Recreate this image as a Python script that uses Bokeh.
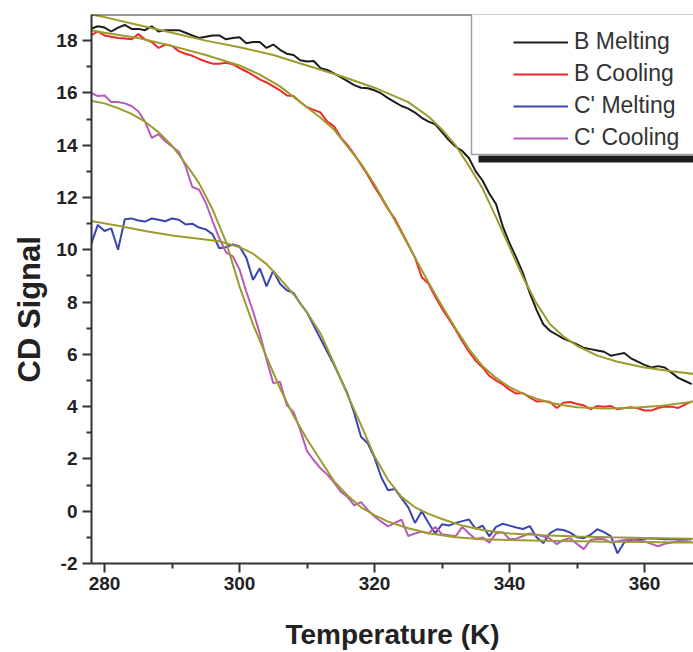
from bokeh.plotting import figure
from bokeh.models import Range1d, FixedTicker, Legend, LegendItem, BoxAnnotation, Span, Title
from bokeh.embed import file_html
from bokeh.resources import INLINE

# ---- data ----
temps = list(range(278, 368))

b_melting = [18.45, 18.55, 18.5, 18.35, 18.5, 18.6, 18.45, 18.45, 18.4, 18.55,
             18.35, 18.4, 18.4, 18.4, 18.3, 18.2, 18.1, 18.15, 18.2, 18.2,
             18.05, 18.1, 18.13, 17.9, 17.95, 17.95, 17.72, 17.85, 17.65, 17.5,
             17.45, 17.25, 17.2, 17.22, 16.95, 16.88, 16.75, 16.6, 16.45, 16.3,
             16.2, 16.18, 16.1, 15.98, 15.8, 15.65, 15.5, 15.4, 15.25, 15.05,
             14.9, 14.8, 14.5, 14.2, 13.95, 13.78, 13.5, 13.0, 12.65, 12.15,
             11.75, 10.9, 10.25, 9.7, 9.1, 8.35, 7.7, 7.15, 6.9, 6.75,
             6.6, 6.5, 6.38, 6.25, 6.2, 6.15, 6.1, 5.95, 6.0, 6.05,
             5.85, 5.72, 5.6, 5.5, 5.55, 5.5, 5.3, 5.1, 4.98, 4.86]

b_cooling = [18.2, 18.35, 18.2, 18.15, 18.1, 18.08, 18.05, 18.25, 18.05, 17.95,
             17.72, 17.85, 17.8, 17.6, 17.5, 17.42, 17.3, 17.2, 17.12, 17.12,
             17.15, 17.1, 16.95, 16.82, 16.68, 16.52, 16.4, 16.25, 16.1, 15.9,
             15.88, 15.65, 15.45, 15.35, 15.25, 14.9, 14.72, 14.3, 14.0, 13.65,
             13.25, 12.85, 12.4, 12.0, 11.55, 11.2, 10.7, 10.2, 9.7, 8.95,
             8.7, 8.2, 7.75, 7.35, 6.95, 6.5, 6.1, 5.75, 5.5, 5.18,
             5.0, 4.85, 4.65, 4.5, 4.52, 4.35, 4.2, 4.22, 4.18, 3.95,
             4.15, 4.18, 4.1, 4.05, 3.9, 4.02, 4.0, 4.02, 3.9, 3.95,
             3.98, 3.94, 3.85, 3.85, 3.95, 4.0, 4.0, 3.95, 4.08, 4.2]

c_melting = [10.2, 10.95, 10.72, 10.82, 10.0, 11.17, 11.2, 11.12, 11.08, 11.2,
             11.15, 11.09, 11.2, 11.15, 10.97, 11.0, 10.85, 10.78, 10.6, 10.06,
             10.1, 10.2, 10.13, 9.7, 8.85, 9.29, 8.6, 9.2, 8.7, 8.45,
             8.35, 7.95, 7.6, 7.1, 6.6, 6.1, 5.6, 5.05, 4.5, 3.75,
             2.85, 2.6, 2.05, 1.3, 0.8, 0.85, 0.5, 0.15, -0.45, 0.0,
             -0.45, -0.85, -0.5, -0.55, -0.45, -0.38, -0.32, -0.68, -0.55, -0.96,
             -0.6, -0.48, -0.55, -0.62, -0.68, -0.57, -1.0, -1.22, -0.84, -0.69,
             -0.72, -0.82, -1.0, -1.03, -0.9, -0.69, -0.8, -0.95, -1.61, -1.2,
             -1.1, -1.07, -1.05, -1.03, -1.05, -1.07, -1.06, -1.08, -1.07, -1.07]

c_cooling = [16.0, 15.88, 15.9, 15.65, 15.65, 15.6, 15.5, 15.3, 14.9, 14.28,
             14.42, 14.15, 13.95, 13.75, 13.2, 12.4, 12.3, 11.8, 11.1, 10.45,
             9.9, 9.75, 9.25, 8.4, 7.65, 6.8, 5.8, 4.9, 4.95, 4.05,
             3.8, 3.1, 2.3, 1.95, 1.64, 1.4, 1.1, 0.75, 0.55, 0.22,
             0.35, 0.05, -0.2, -0.4, -0.58, -0.45, -0.32, -0.95, -0.85, -0.78,
             -0.85, -0.6, -0.88, -0.92, -0.96, -0.6, -0.85, -1.07, -1.0, -1.2,
             -0.85, -0.8, -1.07, -1.05, -0.95, -0.85, -0.9, -0.96, -1.05, -1.26,
             -1.1, -1.03, -1.25, -1.45, -1.1, -1.05, -1.07, -1.2, -1.15, -1.1,
             -1.07, -1.12, -1.15, -1.25, -1.34, -1.25, -1.2, -1.15, -1.15, -1.18]

# fitted curves
fit_bm_t = [278, 280, 285, 290, 295, 300, 305, 310, 315, 320, 325, 328, 330, 332, 334,
            336, 338, 340, 342, 344, 346, 348, 350, 353, 356, 360, 364, 367.3]
fit_bm_v = [19.0, 18.9, 18.6, 18.3, 18.0, 17.75, 17.45, 17.05, 16.65, 16.2, 15.65, 15.1,
            14.6, 14.0, 13.2, 12.35, 11.25, 10.1, 8.95, 7.95, 7.15, 6.68, 6.33, 5.95,
            5.72, 5.5, 5.35, 5.25]

fit_bc_t = [278, 280, 285, 290, 295, 300, 303, 306, 308, 310, 312, 314, 316, 318, 320,
            322, 324, 326, 328, 330, 332, 334, 336, 338, 340, 342, 344, 346, 348, 350,
            354, 358, 362, 366, 367.3]
fit_bc_v = [18.4, 18.3, 18.1, 17.8, 17.45, 17.05, 16.7, 16.25, 15.85, 15.45, 15.05, 14.6,
            13.95, 13.3, 12.5, 11.6, 10.65, 9.7, 8.75, 7.85, 7.0, 6.2, 5.55, 5.1, 4.75,
            4.5, 4.3, 4.15, 4.05, 3.98, 3.93, 3.95, 4.02, 4.15, 4.2]

fit_cm_t = [278, 282, 286, 290, 294, 297, 300, 302, 304, 306, 308, 310, 312, 314, 316,
            318, 320, 322, 324, 326, 328, 330, 333, 336, 340, 345, 350, 355, 360, 365, 367.3]
fit_cm_v = [11.1, 10.92, 10.72, 10.55, 10.42, 10.33, 10.1, 9.85, 9.45, 8.9, 8.3, 7.6,
            6.8, 5.65, 4.45, 3.3, 2.1, 1.2, 0.55, 0.15, -0.1, -0.3, -0.55, -0.72, -0.85,
            -0.92, -0.97, -1.0, -1.02, -1.04, -1.05]

fit_cc_t = [278, 280, 282, 284, 286, 288, 290, 292, 294, 296, 298, 300, 302, 304, 306,
            308, 310, 312, 314, 316, 318, 320, 322, 325, 328, 332, 336, 340, 345, 350,
            355, 360, 365, 367.3]
fit_cc_v = [15.7, 15.6, 15.42, 15.2, 14.9, 14.5, 13.98, 13.3, 12.55, 11.55, 10.3, 8.6,
            7.15, 5.9, 4.7, 3.65, 2.75, 1.95, 1.15, 0.6, 0.15, -0.15, -0.4, -0.65, -0.84,
            -1.0, -1.07, -1.1, -1.13, -1.15, -1.17, -1.18, -1.2, -1.2]

x_major = [280, 300, 320, 340, 360]
x_minor = [270, 290, 310, 330, 350, 370]
y_major = [-2, 0, 2, 4, 6, 8, 10, 12, 14, 16, 18]
y_minor = [-1, 1, 3, 5, 7, 9, 11, 13, 15, 17]

# ---- figure ----
FONT = "Liberation Sans"
AX = "#333333"
FIT = "#9c9c2e"

p = figure(width=693, height=652, output_backend="svg", toolbar_location=None,
           x_range=Range1d(278.07, 367.26), y_range=Range1d(-2, 19),
           min_border_left=91, min_border_right=0, min_border_top=14, min_border_bottom=89)
p.outline_line_color = None
p.grid.visible = False

r_bm = p.line(temps, b_melting, line_color="#1c1c1c", line_width=2)
r_bc = p.line(temps, b_cooling, line_color="#f02828", line_width=2)
r_cm = p.line(temps, c_melting, line_color="#3a46b0", line_width=2)
r_cc = p.line(temps, c_cooling, line_color="#b85ab8", line_width=2)

for ft, fv in [(fit_bm_t, fit_bm_v), (fit_bc_t, fit_bc_v), (fit_cm_t, fit_cm_v), (fit_cc_t, fit_cc_v)]:
    p.line(ft, fv, line_color=FIT, line_width=2)

for ax in (p.xaxis[0], p.yaxis[0]):
    ax.axis_line_color = AX
    ax.axis_line_width = 2
    ax.major_tick_line_color = AX
    ax.major_tick_line_width = 2
    ax.minor_tick_line_color = AX
    ax.minor_tick_line_width = 2
    ax.major_tick_in = 0
    ax.major_tick_out = 9
    ax.minor_tick_in = 0
    ax.minor_tick_out = 5
    ax.major_label_text_font = FONT
    ax.major_label_text_font_style = "bold"
    ax.major_label_text_font_size = "19px"
    ax.major_label_text_color = "#222222"
    ax.axis_label_text_font = FONT
    ax.axis_label_text_font_style = "bold"
    ax.axis_label_text_font_size = "28px"
    ax.axis_label_text_color = "#222222"

p.xaxis.ticker = FixedTicker(ticks=x_major, minor_ticks=x_minor)
p.yaxis.ticker = FixedTicker(ticks=y_major, minor_ticks=y_minor)
p.yaxis.major_label_overrides = {-2: "-2"}
p.xaxis.axis_label = "Temperature (K)"
p.xaxis.major_label_standoff = 4
p.yaxis.major_label_standoff = 5
p.xaxis.axis_label_standoff = 26

p.add_layout(Title(text="CD Signal", align="left", offset=181, standoff=14,
                   text_font=FONT, text_font_style="bold", text_font_size="31px",
                   text_color="#222222"), "left")

p.add_layout(Span(location=19, dimension="width", line_color=AX, line_width=2))

# legend frame + shadow
p.add_layout(BoxAnnotation(left=387, right=700, top=408, bottom=401,
                           left_units="screen", right_units="screen",
                           top_units="screen", bottom_units="screen",
                           fill_color="#1e1e1e", fill_alpha=1, line_color=None))
p.add_layout(BoxAnnotation(left=380, right=700, top=553, bottom=409,
                           left_units="screen", right_units="screen",
                           top_units="screen", bottom_units="screen",
                           fill_color="white", fill_alpha=1,
                           line_color="#a0a0a0", line_width=1.5, line_alpha=1))

legend = Legend(items=[LegendItem(label="B Melting", renderers=[r_bm]),
                       LegendItem(label="B Cooling", renderers=[r_bc]),
                       LegendItem(label="C' Melting", renderers=[r_cm]),
                       LegendItem(label="C' Cooling", renderers=[r_cc])],
                location=(422, 412), border_line_color=None, background_fill_alpha=0,
                padding=0, margin=0, spacing=5, glyph_width=55, glyph_height=26,
                label_height=26, label_standoff=6, label_text_font=FONT,
                label_text_font_size="23px", label_text_color="#333333")
p.add_layout(legend)

open("out.html", "w").write(file_html(p, INLINE))
